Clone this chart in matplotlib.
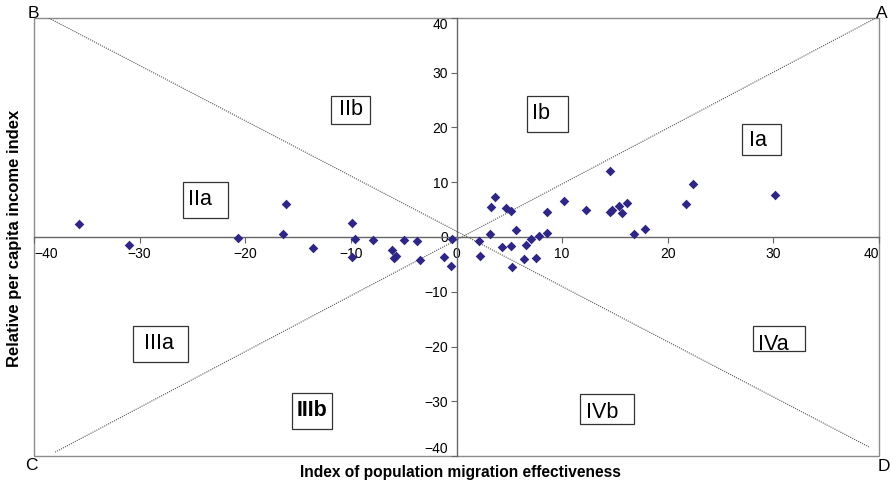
import matplotlib.pyplot as plt
from matplotlib.patches import Rectangle

plt.rcParams['font.family'] = ['Liberation Sans', 'DejaVu Sans']

# migration effectiveness (x) vs relative per capita income (y)
migration = [-35.7, -31.0, -20.7, -16.1, -16.4, -13.6, -9.9, -9.6, -9.9, -7.9,
             -6.1, -5.9, -5.7, -5.0, -3.7, -3.5, -1.2, -0.5, -0.4,
             2.1, 2.2, 3.2, 3.3, 3.6, 4.3, 4.7, 5.2, 5.2, 5.6, 5.3,
             6.4, 6.6, 7.1, 7.5, 7.8, 8.6, 8.6, 10.2, 12.3, 14.5,
             14.5, 14.7, 15.4, 15.7, 16.1, 16.8, 17.8, 21.7, 22.4, 30.2]
income = [2.3, -1.5, -0.2, 6.1, 0.6, -2.1, 2.5, -0.4, -3.6, -0.5,
          -2.4, -3.9, -3.5, -0.5, -0.8, -4.2, -3.6, -5.3, -0.4,
          -0.7, -3.5, 0.6, 5.4, 7.3, -1.8, 5.3, 4.7, -1.7, 1.3, -5.5,
          -4.1, -1.5, -0.4, -3.8, 0.2, 4.5, 0.8, 6.6, 5.0, 12.1,
          4.5, 5.0, 5.6, 4.3, 6.3, 0.5, 1.5, 6.0, 9.6, 7.6]

ticks = [-40, -30, -20, -10, 0, 10, 20, 30, 40]

# region names, text position, box (x0, x1, y0, y1)
regions = ['IIb', 'Ib', 'Ia', 'IIa', 'IIIa', 'IIIb', 'IVb', 'IVa']
text_xy = [(-10.0, 23.2), (8.0, 22.5), (28.5, 17.6), (-24.3, 6.8),
           (-28.2, -19.5), (-13.7, -31.7), (13.75, -32.0), (29.96, -19.6)]
boxes = [(-11.88, -8.19, 20.64, 25.75), (6.67, 10.56, 19.18, 25.75),
         (27.03, 30.72, 14.98, 20.64), (-25.89, -21.63, 3.47, 10.05),
         (-30.63, -25.42, -22.83, -16.26), (-15.55, -11.76, -35.01, -28.55),
         (11.69, 16.8, -34.21, -28.68), (28.1, 33.02, -20.88, -16.26)]

fig = plt.figure(figsize=(8.9, 4.84), dpi=100)
ax = fig.add_axes([34 / 890, 1 - 456 / 484, 845 / 890, 438 / 484])
ax.set_xlim(-40, 40)
ax.set_ylim(-40, 40)

# outer frame
ax.add_patch(Rectangle((0, 0), 1, 1, transform=ax.transAxes, fill=False,
                       edgecolor='#8c8c8c', linewidth=1.0, clip_on=False, zorder=1))

# axes through the origin
for side in ['top', 'right']:
    ax.spines[side].set_visible(False)
for side in ['left', 'bottom']:
    ax.spines[side].set_position(('data', 0))
    ax.spines[side].set_color('#666666')
    ax.spines[side].set_linewidth(1.0)

ax.set_xticks(ticks)
ax.set_yticks(ticks)
ax.tick_params(direction='out', length=4, width=0.8, color='#666666',
               labelsize=10, pad=2)
ax.tick_params(axis='x', pad=3)
xl = ax.get_xticklabels()
xl[0].set_ha('left')
xl[-1].set_ha('right')
yl = ax.get_yticklabels()
yl[0].set_va('bottom')
yl[-1].set_va('top')

# diagonals B-D and C-A
ax.plot([-38.6, 39.1], [40, -38.4], linestyle=(0, (1, 1)), color='#555555', linewidth=0.8)
ax.plot([-38.0, 39.7], [-39.3, 40], linestyle=(0, (1, 1)), color='#555555', linewidth=0.8)

ax.scatter(migration, income, marker='D', s=24, color='#2e2589', zorder=4, linewidths=0)

for name, (tx, ty), (x0, x1, y0, y1) in zip(regions, text_xy, boxes):
    ax.add_patch(Rectangle((x0, y0), x1 - x0, y1 - y0, facecolor='white',
                           edgecolor='#333333', linewidth=0.9, zorder=5))
    ax.text(tx, ty, name, fontsize=15.5, ha='center', va='center', zorder=6,
            fontweight='bold' if name == 'IIIb' else 'normal')

# corner letters
fig.text(33 / 890, 1 - 13.5 / 484, 'B', fontsize=12.5, ha='center', va='center')
fig.text(882 / 890, 1 - 13.5 / 484, 'A', fontsize=12.5, ha='center', va='center')
fig.text(31.5 / 890, 1 - 466 / 484, 'C', fontsize=12.5, ha='center', va='center')
fig.text(884 / 890, 1 - 466.5 / 484, 'D', fontsize=12.5, ha='center', va='center')

fig.text(460 / 890, 1 - 472 / 484, 'Index of population migration effectiveness',
         fontsize=11.2, fontweight='bold', ha='center', va='center')
fig.text(15 / 890, 1 - 238 / 484, 'Relative per capita income index',
         fontsize=12, fontweight='bold', ha='center', va='center', rotation=90)

fig.savefig('out.png', dpi=100)
